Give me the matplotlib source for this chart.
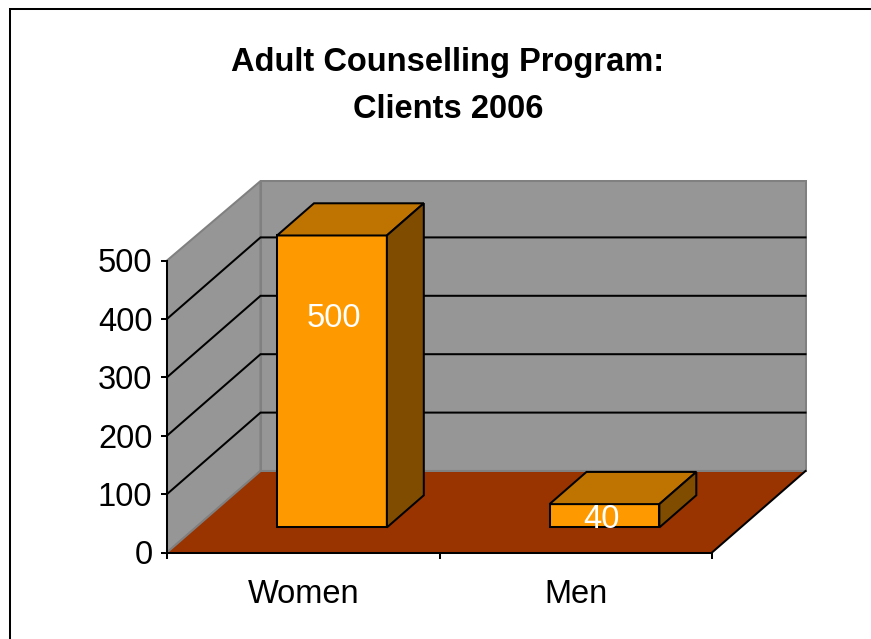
import matplotlib
matplotlib.use("Agg")
import matplotlib.pyplot as plt
from matplotlib.lines import Line2D

categories = ["Women", "Men"]
clients = [500, 40]
y_ticks = [0, 100, 200, 300, 400, 500]
title = "Adult Counselling Program:\nClients 2006"

W, H = 871, 639
px = 1 / W
py = 1 / H

plt.rcParams['font.family'] = ['Liberation Sans']

fig = plt.figure(figsize=(W / 100, H / 100), dpi=100)
# front plane of the fake 3d box, everything else is offset from it
ax = fig.add_axes([167 * px, 1 - 552.5 * py, 545 * px, 292 * py])
ax.set_xlim(0, len(categories))
ax.set_ylim(0, max(y_ticks))
ax.patch.set_visible(False)

# depth of the box in data units
ddx = 93.5 / 545 * len(categories)
ddy = 81.5 / 292 * max(y_ticks)
xmax = len(categories)
ymax = max(y_ticks)
wall_top = ymax + ddy - 3.5  # back wall stops a touch lower than the scale says

WALL = '#969696'
WALL_EDGE = '#808080'
FLOOR = '#993300'
FRONT = '#ff9900'
TOP = '#bf7300'
SIDE = '#804d00'
LW = 1.45


def poly(xs, ys, color, edge='none', z=1, lw=LW):
    ax.fill(xs, ys, facecolor=color, edgecolor=edge, linewidth=lw, zorder=z,
            clip_on=False, joinstyle='miter')


# walls and floor
poly([0, ddx, ddx, 0], [0, ddy, wall_top, ymax], WALL, WALL_EDGE, 1)
poly([ddx, xmax + ddx, xmax + ddx, ddx], [ddy, ddy, wall_top, wall_top], WALL, WALL_EDGE, 1)
poly([0, xmax, xmax + ddx, ddx], [0, 0, ddy, ddy], FLOOR, 'none', 2)
ax.plot([0, ddx], [0, ddy], color=WALL_EDGE, lw=LW, zorder=3, clip_on=False)
ax.plot([ddx, xmax + ddx], [ddy, ddy], color=WALL_EDGE, lw=LW, zorder=3, clip_on=False)
ax.plot([xmax, xmax + ddx], [0, ddy], color='black', lw=LW, zorder=3, clip_on=False)

# gridlines run across left wall and back wall
for t in y_ticks[1:-1]:
    ax.plot([0, ddx, xmax + ddx], [t, t + ddy, t + ddy], color='black', lw=LW,
            zorder=3, clip_on=False, solid_joinstyle='miter')

# bars
bar_w = 0.403
start = 0.307  # bar front sits this far into the box depth
depth = 0.395
label_off = [(2, -80), (-3, -12)]  # px from top centre of front face
for i, (cat, v) in enumerate(zip(categories, clients)):
    x0 = i + 0.5 - bar_w / 2 + start * ddx
    x1 = x0 + bar_w
    y0 = start * ddy
    y1 = y0 + v
    dx = depth * ddx
    dy = depth * ddy
    poly([x0, x1, x1, x0], [y0, y0, y1, y1], FRONT, 'black', 5)
    poly([x0, x1, x1 + dx, x0 + dx], [y1, y1, y1 + dy, y1 + dy], TOP, 'black', 5)
    poly([x1, x1 + dx, x1 + dx, x1], [y0, y0 + dy, y1 + dy, y1], SIDE, 'black', 5)
    ax.annotate(str(v), xy=((x0 + x1) / 2, y1), xytext=label_off[i],
                textcoords='offset pixels', ha='center', va='center_baseline', color='white',
                fontsize=23.5, zorder=6, annotation_clip=False)

# axes
for s in ['top', 'right']:
    ax.spines[s].set_visible(False)
for s in ['left', 'bottom']:
    ax.spines[s].set_linewidth(LW)
    ax.spines[s].set_zorder(4)
ax.set_yticks(y_ticks)
ax.set_xticks(range(len(categories) + 1))
ax.set_xticklabels([])
ax.set_xticks([i + 0.5 for i in range(len(categories))], labels=categories, minor=True)
ax.tick_params(axis='x', which='major', length=4.5, width=LW, direction='out')
ax.tick_params(axis='x', which='minor', length=0, pad=19, labelsize=23.5)
ax.tick_params(axis='y', length=4.5, width=LW, direction='out', pad=6, labelsize=23.5)

fig.text(448 * px, 1 - 86 * py, title, ha='center', va='center', fontsize=23.5,
         fontweight='bold', linespacing=1.66)

# chart area border: only top and left are in view
fig.add_artist(Line2D([10 * px, 10 * px, 1], [0, 1 - 9 * py, 1 - 9 * py], color='black',
                      lw=LW, solid_joinstyle='miter'))

fig.savefig("out.png", dpi=100)
